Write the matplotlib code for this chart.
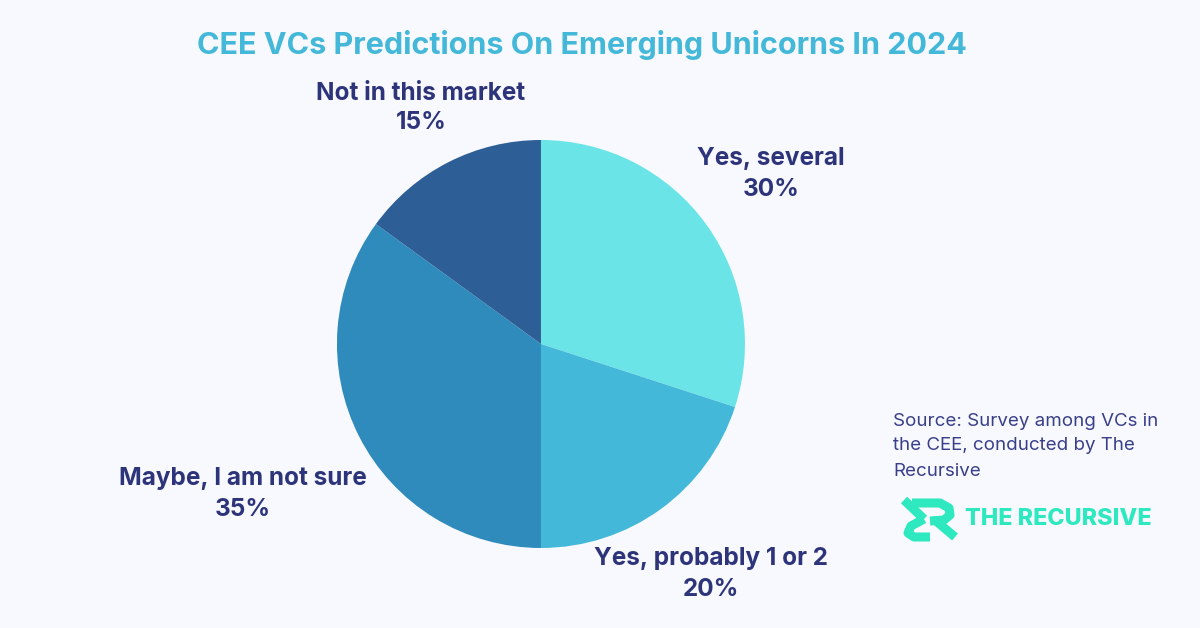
import matplotlib
matplotlib.use("Agg")
import matplotlib.pyplot as plt
from matplotlib.lines import Line2D

# data
labels = ["Yes, several", "Yes, probably 1 or 2", "Maybe, I am not sure", "Not in this market"]
shares = [30, 20, 35, 15]
colors = ["#6be4e8", "#44b8d8", "#2e8bbb", "#2d5f96"]

bg = "#f7f9fe"
navy = "#2d347a"

plt.rcParams["font.family"] = ["Inter", "DejaVu Sans"]

fig = plt.figure(figsize=(12, 6.28), dpi=100, facecolor=bg)

# pie axes (center ~ (541,344) px, radius ~204 px)
ax = fig.add_axes([0.2808, 0.1274, 0.34, 0.6497])
ax.set_facecolor(bg)
ax.pie(shares, colors=colors, startangle=90, counterclock=False,
       wedgeprops=dict(linewidth=0))
ax.set_xlim(-1, 1)
ax.set_ylim(-1, 1)
ax.set_aspect("equal")
ax.axis("off")


def px(x, y):
    return x / 1200, 1 - y / 628


fig.text(*px(582, 45), "CEE VCs Predictions On Emerging Unicorns In 2024",
         ha="center", va="center", fontsize=22, fontweight="bold", color="#44b8d8")

# slice labels (name + percentage)
label_pos = [(771, 158, 189), (711, 558, 589), (243, 478, 510), (421, 93, 122)]
for name, val, (x, y1, y2) in zip(labels, shares, label_pos):
    fig.text(*px(x, y1), name, ha="center", va="center", fontsize=17.5,
             fontweight="bold", color=navy)
    fig.text(*px(x, y2), f"{val}%", ha="center", va="center", fontsize=17.5,
             fontweight="bold", color=navy)

# source note
src = ["Source: Survey among VCs in", "the CEE, conducted by The", "Recursive"]
for i, line in enumerate(src):
    fig.text(*px(893, 421 + 25 * i), line, ha="left", va="center",
             fontsize=13.5, color="#3a3f8a")

# logo
teal = "#2ee8c0"
icon = [
    [(912, 503), (940, 503), (949, 508), (950, 515), (944, 520), (930, 521)],
    [(904, 500), (924, 519)],
    [(924, 519), (911, 526), (908, 533), (914, 537), (930, 537)],
    [(936, 521), (955, 537)],
]
for seg in icon:
    xs = [p[0] / 1200 for p in seg]
    ys = [1 - p[1] / 628 for p in seg]
    fig.add_artist(Line2D(xs, ys, color=teal, linewidth=6.5, solid_capstyle="butt",
                          solid_joinstyle="round", transform=fig.transFigure))
fig.text(*px(965, 519), "THE RECURSIVE", ha="left", va="center", fontsize=16.8,
         fontweight="heavy", color=teal)

fig.savefig("out.png", dpi=100, facecolor=bg)
